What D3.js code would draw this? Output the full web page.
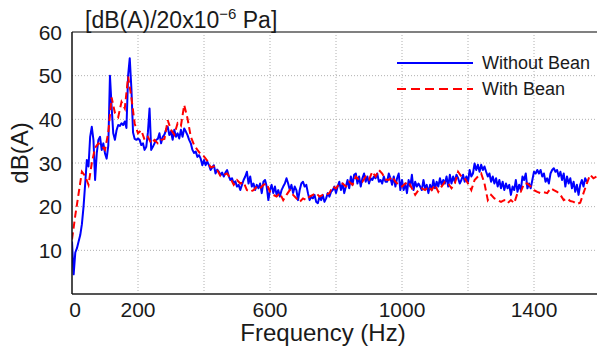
<!DOCTYPE html>
<html lang="en">
  <head>
    <meta charset="utf-8">
    <title>Spectrum</title>
    <script src="https://cdn.jsdelivr.net/npm/d3@7"></script>
    <style>
      body { margin: 0; background: #fff; }
      text { font-family: "Liberation Sans", Arial, sans-serif; fill: #1a1a1a; }
    </style>
  </head>
  <body>
    <script>
    // frequency steps of the two series (Hz)
    var stepWithout = 5;
    var stepWith = 10;

    // Without Bean, 0 .. 1560 Hz every 5 Hz
    var withoutBean = [
      12, 4.5, 9.5, 10.5, 12, 13.5, 16, 20, 25.3, 30.7,
      29.2, 36, 38.3, 35.3, 26.1, 32.2, 35.3, 36, 33, 34.5,
      32.2, 31, 34, 50, 43, 36.8, 35.3, 37.5, 38.7, 38.5,
      39.1, 38.7, 39.5, 38, 50, 54, 47, 37,
      35.5, 35.3, 35.6, 35.3, 34.1, 34.5, 33, 33.7, 37, 42.5,
      33, 33.7, 34.5,
      35.3, 35.5, 36.8, 34.5, 36, 36.5, 37.6, 38.3, 36.4, 37.2,
      35.3, 37.6, 36, 36.8, 35.6, 37.6, 36, 37.9, 37.2, 36.4,
      35.3, 34.5, 33, 32.3, 32.6, 31.4, 31.8, 31, 29.5, 30.7,
      29.5, 30.3, 29.5, 28.4, 29, 29.5, 27.6, 28.5, 28, 27.2,
      27.8, 26.9, 27.8, 28.4, 27, 26.1, 26.5, 25.3, 25.8, 24.6,
      25, 23.8, 25, 26.1,
      26.9, 28, 25.3, 26.9, 24.6, 25.3, 23.8, 25, 24.2, 25.3,
      23.1, 25.7, 26.1, 24.6, 21.5, 23.8, 25, 23.1, 24.6, 22.7,
      23.8, 22.3, 23.8, 24.6, 25.3, 26.5, 25.3, 23.8, 25, 23.1,
      24.6, 23.8, 21.5, 23.8, 25.3, 25.7, 24.6, 25, 23.1, 21.5,
      22.3, 21.9, 22.7, 21.1, 20.8, 22.3, 21.5, 22.7, 21.1, 21.9,
      23.1, 22.3, 23.4, 23.8, 24.6,
      23.1, 24.6, 25.7, 23.8, 25.3, 23.1, 24.6, 26.1, 24.2, 26.9,
      25, 27.3, 27.6, 25.3, 26.9, 24.6, 26.5, 27.6, 25.7, 26.9,
      25.3, 26.5, 26.1, 26.9, 26.5, 27.6, 25.7, 26.1, 25.3, 26.9,
      25.7, 25.7, 27.6, 26.5, 25, 26.9, 24.6, 26.5, 27.6, 23.8,
      26.1, 23.8, 25.3, 23.1, 26.1, 24.6, 27.3, 23.8, 25.7, 24.6,
      25.3, 24.6, 23.8, 26.1, 24.2, 25,
      23.1, 25, 23.8, 26.1, 24.2, 25.7, 24.6, 26.5, 25, 26.1,
      25.3, 26.9, 24.6, 27.3, 25.3, 26.9, 25.7, 27.3, 26.5, 25.3,
      26.1, 27.3, 25.7, 26.9, 25.7, 28.4, 26.9, 27.6, 29.9, 28.4,
      29.6, 28, 29.6, 28.4, 29.2, 28, 26.9, 27.6, 25.7, 26.9,
      25.3, 26.5, 24.6, 26.1, 24.2, 25.7, 23.8, 25.3, 24.2, 25,
      22.7, 24.6, 23.8, 26.1,
      23.4, 25, 23.8, 26.9, 26.1, 27.6, 24.2, 25.3, 24.2, 26.1,
      28, 27.6, 28.4, 27.6, 28.4, 26.9, 27.6, 25.7, 26.5, 25.3,
      27.6, 28.4, 28.8, 28, 28.4, 26.9, 28, 26.1, 27.6, 24.6,
      26.9, 25.3, 26.5, 24.2, 25.7, 23.4, 25, 22.7, 25, 26.1,
      24.6, 26.5, 25.7
    ];

    // With Bean, 0 .. 1590 Hz every 10 Hz
    var withBean = [
      12.5, 18, 23, 28, 27, 25, 30, 33.5, 34.5, 34,
      33, 37, 45, 41.5, 40.5, 44, 42.5, 49.8, 45, 39,
      36.8, 37.5, 35.3, 36, 34.5, 35.3, 34.5, 35.3, 35.5, 39.8,
      37.6, 36.5, 39.1, 38.5, 43.3, 40.2, 36, 34.1, 33, 32,
      31.5, 30.5, 29, 29.2, 28.4, 27, 27.3, 27.6, 26.5, 25,
      26.1, 25.3, 25.6, 23.8, 23.4, 23.8, 24.6, 24.2, 25, 25.3,
      23.4, 22.7, 22.3, 23.1, 21.5, 22.7, 23.8, 22.7, 21.9, 21.1,
      21.9, 21.5, 22.3, 22.7, 23.1, 22.3, 22.7, 22.7, 23.1, 24.6,
      24.2, 25.3, 25.3, 24.6, 25.7, 25, 26.9, 26.1, 25.7, 26.9,
      26.2, 28, 26.9, 28.4, 27.6, 26.2, 26.1, 26.9, 25.7, 25,
      24.6, 25.3, 25.7, 24.2, 22.7, 23.8, 24.2, 23.8, 24.6, 23.8,
      25, 23.4, 24.6, 25.7, 25.3, 24.2, 25.3, 28, 26.9, 26.5,
      25.3, 23.8, 26.1, 26.9, 27.6, 25.3, 21.5, 22.7, 21.9, 21.5,
      21.1, 21.5, 20.8, 21.5, 20.8, 23.1, 23.4, 25.3, 25.3, 24.6,
      23.8, 23.4, 23.1, 23.3, 23.1, 24.2, 23.8, 23.4, 22.7, 21.5,
      21.9, 21.3, 21.1, 20.6, 20.9, 23.1, 25.3, 27.3, 26.5, 26.9
    ];

    var xGrid = [200, 400, 600, 800, 1000, 1200, 1400];
    var xLabels = [0, 200, 600, 1000, 1400];
    var yTicks = [10, 20, 30, 40, 50, 60];
    var yGrid = [10, 20, 30, 40, 50];

    var W = 597;
    var H = 350;
    var plotL = 72, plotR = 600, plotT = 32, plotB = 294;

    var x = d3.scaleLinear().domain([0, 1600]).range([plotL, plotR]);
    var y = d3.scaleLinear().domain([0, 60]).range([plotB, plotT]);

    var svg = d3.select("body").append("svg")
        .attr("width", W)
        .attr("height", H);

    svg.append("defs").append("clipPath")
        .attr("id", "plot")
        .append("rect")
        .attr("x", plotL)
        .attr("y", plotT)
        .attr("width", W - plotL)
        .attr("height", plotB - plotT);

    // dotted grid
    svg.append("g")
        .selectAll("line")
        .data(xGrid)
        .enter()
        .append("line")
        .attr("x1", function(d) { return x(d); })
        .attr("x2", function(d) { return x(d); })
        .attr("y1", plotT)
        .attr("y2", plotB)
        .attr("stroke", "#b0b0b0")
        .attr("stroke-dasharray", "1,2");

    svg.append("g")
        .selectAll("line")
        .data(yGrid)
        .enter()
        .append("line")
        .attr("x1", plotL)
        .attr("x2", W)
        .attr("y1", function(d) { return y(d); })
        .attr("y2", function(d) { return y(d); })
        .attr("stroke", "#b0b0b0")
        .attr("stroke-dasharray", "1,2");

    function lineFor(step) {
        return d3.line()
            .x(function(d, i) { return x(i * step); })
            .y(function(d) { return y(d); });
    }

    var lines = svg.append("g").attr("clip-path", "url(#plot)");

    lines.append("path")
        .datum(withoutBean)
        .attr("d", lineFor(stepWithout))
        .attr("fill", "none")
        .attr("stroke", "#0000ff")
        .attr("stroke-width", 2)
        .attr("stroke-linejoin", "round");

    lines.append("path")
        .datum(withBean)
        .attr("d", lineFor(stepWith))
        .attr("fill", "none")
        .attr("stroke", "#ff0000")
        .attr("stroke-width", 2)
        .attr("stroke-dasharray", "7,4");

    // frame
    svg.append("line")
        .attr("x1", plotL).attr("x2", W)
        .attr("y1", plotT).attr("y2", plotT)
        .attr("stroke", "#808080").attr("stroke-width", 2);
    svg.append("line")
        .attr("x1", plotL).attr("x2", W)
        .attr("y1", plotB).attr("y2", plotB)
        .attr("stroke", "#555").attr("stroke-width", 2);
    svg.append("line")
        .attr("x1", plotL).attr("x2", plotL)
        .attr("y1", plotT).attr("y2", plotB)
        .attr("stroke", "#111").attr("stroke-width", 1.5);

    // tick labels
    svg.append("g")
        .selectAll("text")
        .data(yTicks)
        .enter()
        .append("text")
        .attr("x", 62)
        .attr("y", function(d) { return y(d); })
        .attr("dy", "0.36em")
        .attr("text-anchor", "end")
        .attr("font-size", 21)
        .text(function(d) { return d; });

    svg.append("g")
        .selectAll("text")
        .data(xLabels)
        .enter()
        .append("text")
        .attr("x", function(d) { return d === 0 ? x(d) + 3 : x(d); })
        .attr("y", 317)
        .attr("text-anchor", "middle")
        .attr("font-size", 21)
        .text(function(d) { return d; });

    // axis titles
    svg.append("text")
        .attr("x", 323)
        .attr("y", 341)
        .attr("text-anchor", "middle")
        .attr("font-size", 24)
        .text("Frequency (Hz)");

    svg.append("text")
        .attr("transform", "translate(28,153) rotate(-90)")
        .attr("text-anchor", "middle")
        .attr("font-size", 24)
        .text("dB(A)");

    var title = svg.append("text")
        .attr("x", 85)
        .attr("y", 28)
        .attr("font-size", 23);
    title.append("tspan").text("[dB(A)/20x10");
    title.append("tspan").attr("dy", -9).attr("font-size", 15).text("\u22126");
    title.append("tspan").attr("dy", 9).text(" Pa]");

    // legend
    var legend = svg.append("g");
    var items = [
      { name: "Without Bean", color: "#0000ff", dash: null, y: 63 },
      { name: "With Bean", color: "#ff0000", dash: "9,5", y: 89 }
    ];
    legend.selectAll("line")
        .data(items)
        .enter()
        .append("line")
        .attr("x1", 397).attr("x2", 473)
        .attr("y1", function(d) { return d.y; })
        .attr("y2", function(d) { return d.y; })
        .attr("stroke", function(d) { return d.color; })
        .attr("stroke-width", 2)
        .attr("stroke-dasharray", function(d) { return d.dash; });
    legend.selectAll("text")
        .data(items)
        .enter()
        .append("text")
        .attr("x", 482)
        .attr("y", function(d) { return d.y; })
        .attr("dy", "0.36em")
        .attr("font-size", 18)
        .text(function(d) { return d.name; });
    </script>
  </body>
</html>
